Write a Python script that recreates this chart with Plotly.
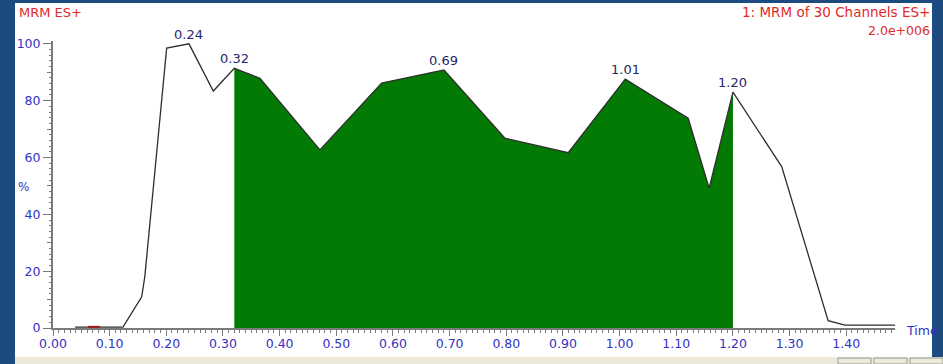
import plotly.graph_objects as go

# Chromatogram trace: retention time (min) and relative intensity (%)
time = [0.039, 0.083, 0.1235, 0.1565, 0.162, 0.2006, 0.24, 0.2829, 0.32, 0.3653, 0.4711,
        0.58, 0.69, 0.7976, 0.9093, 1.01, 1.121, 1.158, 1.20, 1.286, 1.368, 1.3976, 1.486]
intensity = [0.3, 0.3, 0.3, 11, 18, 98.5, 100, 83.4, 91.4, 87.9, 62.7,
             86.2, 90.8, 66.8, 61.7, 87.6, 73.8, 49.2, 83.0, 56.8, 2.6, 1.0, 1.0]

# Small marked segment on the baseline
blip_time = [0.062, 0.083]
blip_intensity = [0.4, 0.4]

# Integrated region
integ_start, integ_end = 0.32, 1.20

# Labelled apex times
peak_labels = ["0.24", "0.32", "0.69", "1.01", "1.20"]

x_ticks = [0.0, 0.1, 0.2, 0.3, 0.4, 0.5, 0.6, 0.7, 0.8, 0.9, 1.0, 1.1, 1.2, 1.3, 1.4]
y_ticks = [0, 20, 40, 60, 80, 100]

W, H = 943, 364
L, R, T, B = 53, 895, 41, 328          # plot area in pixels
X_MAX, Y_MAX = 1.486, 101


def px(xp):
    return (xp - L) / (R - L)


def py(yp):
    return (B - yp) / (B - T)


BLUE_BG = "#1d4a7f"
TICK_BLUE = "#3232c4"
AXIS_GRAY = "#7a7a7a"
RED = "#e02a2a"
GREEN = "#037a03"

fig = go.Figure()

fill_x = [t for t in time if integ_start <= t <= integ_end]
fill_y = [v for t, v in zip(time, intensity) if integ_start <= t <= integ_end]
fig.add_trace(go.Scatter(x=fill_x, y=fill_y, mode="lines", fill="tozeroy",
                         fillcolor=GREEN, line=dict(color=GREEN, width=0),
                         hoverinfo="skip", showlegend=False))
fig.add_trace(go.Scatter(x=time, y=intensity, mode="lines",
                         line=dict(color="#2e2e2e", width=1.3), showlegend=False))
fig.add_trace(go.Scatter(x=blip_time, y=blip_intensity, mode="lines",
                         line=dict(color="#a01818", width=2), showlegend=False))
# carriers for the secondary tick axes
fig.add_trace(go.Scatter(x=[], y=[], xaxis="x2", yaxis="y2", showlegend=False))
fig.add_trace(go.Scatter(x=[], y=[], xaxis="x3", yaxis="y2", showlegend=False))

for lab in peak_labels:
    t = float(lab)
    idx = min(range(len(time)), key=lambda i: abs(time[i] - t))
    fig.add_annotation(x=time[idx], y=intensity[idx], text=lab, showarrow=False,
                       yanchor="bottom", yshift=0,
                       font=dict(family="DejaVu Sans", size=13, color="#26266a"))

font_main = dict(family="DejaVu Sans", size=12.5, color=TICK_BLUE)
gray_tick = dict(showticklabels=False, showgrid=False, zeroline=False,
                 ticks="outside", tickcolor=AXIS_GRAY)

fig.update_layout(
    width=W, height=H,
    margin=dict(l=L, r=W - R, t=T, b=H - B, pad=0),
    paper_bgcolor=BLUE_BG, plot_bgcolor="white",
    showlegend=False,
    xaxis=dict(range=[0, X_MAX], tickvals=x_ticks,
               ticktext=[f"{v:.2f}" for v in x_ticks],
               showgrid=False, zeroline=False, showline=True,
               linecolor=AXIS_GRAY, linewidth=2, ticks="outside", ticklen=2.5,
               tickcolor=AXIS_GRAY, tickfont=font_main,
               minor=dict(dtick=0.01, tick0=0, ticks="outside", ticklen=2.5,
                          tickcolor=AXIS_GRAY, showgrid=False)),
    xaxis2=dict(range=[0, X_MAX], overlaying="x", side="bottom", anchor="y",
                dtick=0.05, tick0=0, ticklen=4, **gray_tick),
    xaxis3=dict(range=[0, X_MAX], overlaying="x", side="bottom", anchor="y",
                dtick=0.1, tick0=0, ticklen=6.5, **gray_tick),
    yaxis=dict(range=[0, Y_MAX], tickvals=y_ticks,
               showgrid=False, zeroline=False, showline=True,
               linecolor=AXIS_GRAY, linewidth=2, ticks="outside", ticklen=8,
               tickcolor=AXIS_GRAY, tickfont=font_main),
    yaxis2=dict(range=[0, Y_MAX], overlaying="y", side="left", anchor="x",
                dtick=10, tick0=0, ticklen=5,
                minor=dict(dtick=2, tick0=0, ticks="outside", ticklen=3,
                           tickcolor=AXIS_GRAY, showgrid=False),
                **gray_tick),
)

# window panel and status strip
shapes = [
    dict(type="rect", xref="paper", yref="paper", x0=px(15), x1=px(932),
         y0=py(357), y1=py(3), fillcolor="white", line=dict(width=0), layer="below"),
    dict(type="rect", xref="paper", yref="paper", x0=px(15), x1=px(943),
         y0=py(364), y1=py(357), fillcolor="#ece9d8", line=dict(width=0), layer="below"),
]
for bx in (838, 874, 910):
    shapes.append(dict(type="rect", xref="paper", yref="paper", x0=px(bx), x1=px(bx + 33),
                       y0=py(364), y1=py(358), fillcolor="#ece9d8",
                       line=dict(color="#9a9a9a", width=1), layer="below"))
fig.update_layout(shapes=shapes)

txt = [
    dict(text="MRM ES+", x=px(17), y=py(13), xanchor="left", color=RED, size=13),
    dict(text="1: MRM of 30 Channels ES+", x=px(932), y=py(12), xanchor="right", color=RED, size=13.5),
    dict(text="2.0e+006", x=px(932), y=py(30), xanchor="right", color=RED, size=12.5),
    dict(text="%", x=px(16), y=py(187), xanchor="left", color=TICK_BLUE, size=12),
    dict(text="Time", x=px(904), y=py(330), xanchor="left", color=TICK_BLUE, size=12.5),
]
for a in txt:
    fig.add_annotation(text=a["text"], xref="paper", yref="paper", x=a["x"], y=a["y"],
                       xanchor=a["xanchor"], yanchor="middle", showarrow=False,
                       font=dict(family="DejaVu Sans", size=a["size"], color=a["color"]))

fig.write_html("out.html")
